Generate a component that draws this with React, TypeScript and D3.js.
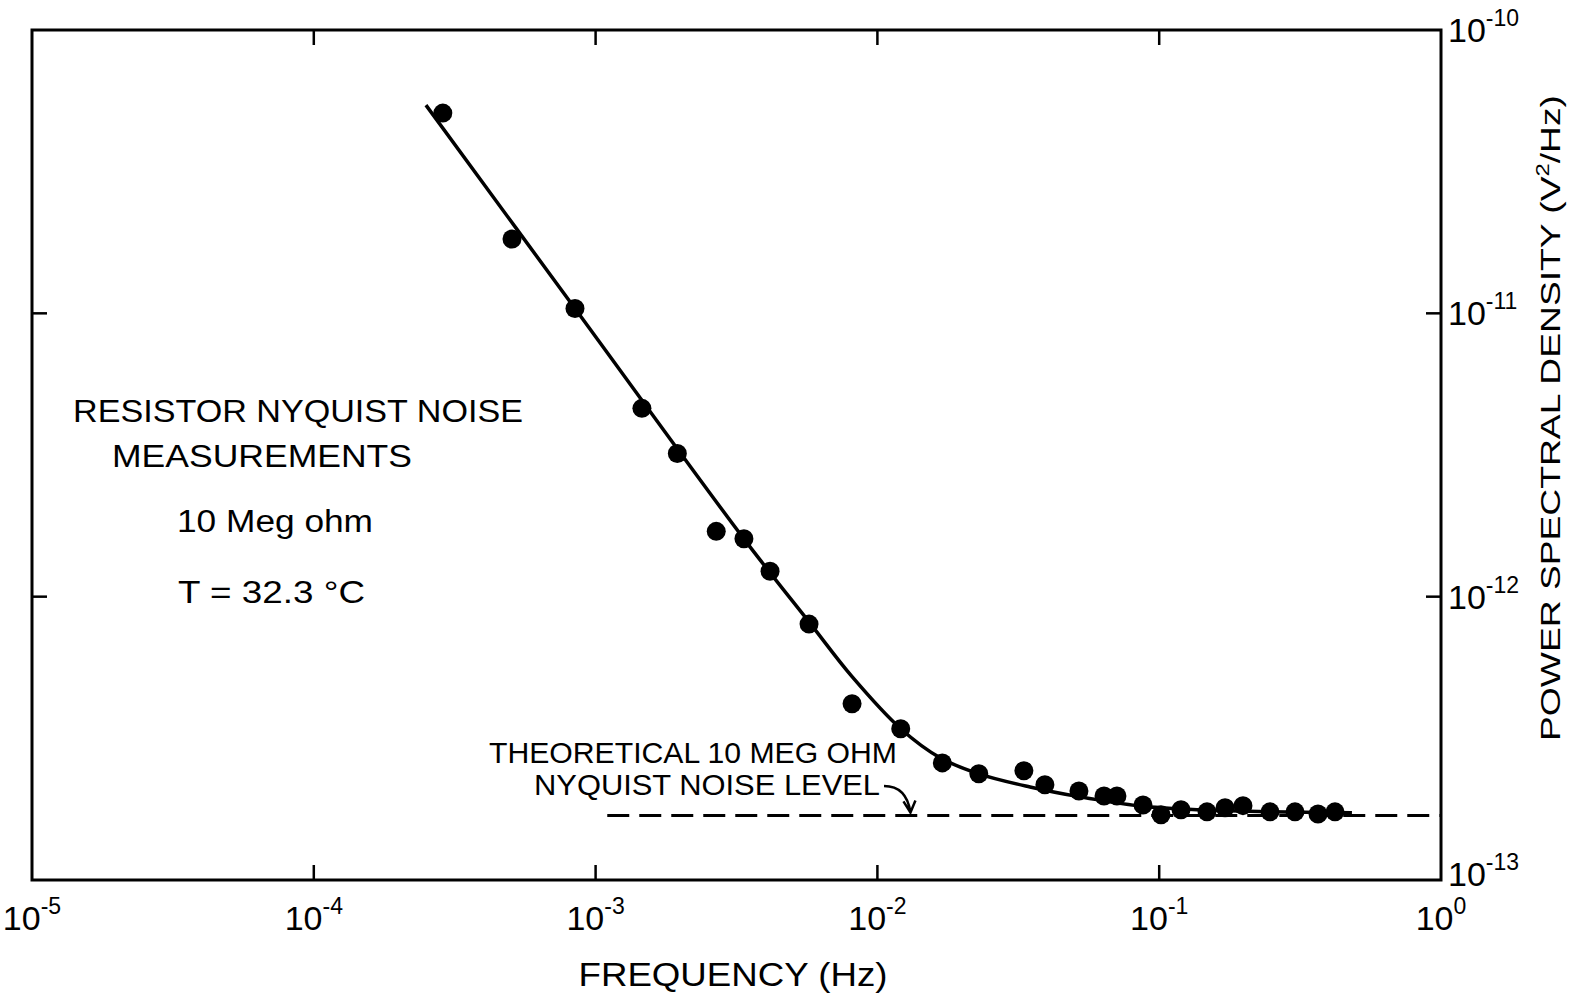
import React from "react";
import * as d3 from "d3";

// measured points (Hz, V^2/Hz)
const freq = [
  2.87e-4, 5.05e-4, 8.45e-4, 1.46e-3, 1.95e-3, 2.68e-3, 3.36e-3, 4.16e-3, 5.72e-3,
  8.13e-3, 1.21e-2, 1.7e-2, 2.29e-2, 3.31e-2, 3.93e-2, 5.19e-2, 6.37e-2, 7.08e-2,
  8.76e-2, 0.1015, 0.1195, 0.1478, 0.1713, 0.1983, 0.2473, 0.3033, 0.3661, 0.4206,
];
const psd = [
  5.09e-11, 1.83e-11, 1.04e-11, 4.62e-12, 3.2e-12, 1.7e-12, 1.6e-12, 1.23e-12, 8.0e-13,
  4.19e-13, 3.42e-13, 2.59e-13, 2.37e-13, 2.43e-13, 2.17e-13, 2.06e-13, 1.98e-13, 1.98e-13,
  1.84e-13, 1.7e-13, 1.77e-13, 1.74e-13, 1.8e-13, 1.83e-13, 1.74e-13, 1.74e-13, 1.71e-13, 1.74e-13,
];

// fitted curve
const fitFreq = [
  2.5e-4, 8.45e-4, 3.36e-3, 5.8e-3, 8.13e-3, 1.21e-2, 1.67e-2, 2.29e-2, 3.48e-2, 5.24e-2,
  8.55e-2, 0.1396, 0.247, 0.483,
];
const fitPsd = [
  5.43e-11, 1.04e-11, 1.6e-12, 8.0e-13, 5.22e-13, 3.42e-13, 2.7e-13, 2.37e-13, 2.13e-13, 1.965e-13,
  1.826e-13, 1.77e-13, 1.74e-13, 1.726e-13,
];

const nyquistLevel = 1.69e-13;
const nyquistFrom = 1.1e-3;
const nyquistTo = 0.99;

const xTicks = [1e-5, 1e-4, 1e-3, 1e-2, 1e-1, 1];
const xExps = ["-5", "-4", "-3", "-2", "-1", "0"];
const yTicks = [1e-10, 1e-11, 1e-12, 1e-13];
const yExps = ["-10", "-11", "-12", "-13"];

const font = "'Liberation Sans', Arial, sans-serif";

export default function App() {
  const width = 1574;
  const height = 1000;
  const left = 32, right = 1441, top = 30, bottom = 880;

  const x = d3.scaleLog().domain([1e-5, 1]).range([left, right]);
  const y = d3.scaleLog().domain([1e-13, 1e-10]).range([bottom, top]);

  const fit = d3
    .line<number>()
    .x((d) => x(d))
    .y((d, i) => y(fitPsd[i]))
    .curve(d3.curveCatmullRom)(fitFreq);

  // arrow from the label down to the dashed line
  const tipX = x(1.31e-2);
  const tipY = y(nyquistLevel) - 3;
  const arrow = d3.path();
  arrow.moveTo(884, 786);
  arrow.quadraticCurveTo(tipX - 4, 786, tipX, tipY);
  arrow.moveTo(tipX - 7, tipY - 11);
  arrow.lineTo(tipX, tipY);
  arrow.lineTo(tipX + 5, tipY - 12);

  const inner = [1e-4, 1e-3, 1e-2, 1e-1];
  const innerY = [1e-11, 1e-12];

  return (
    <svg
      width={width}
      height={height}
      style={{ position: "absolute", left: 0, top: 0, background: "#fff" }}
      fontFamily={font}
    >
      {/* frame */}
      <rect x={left} y={top} width={right - left} height={bottom - top} fill="none" stroke="#000" strokeWidth={3} />

      {/* ticks */}
      {inner.map((t) => (
        <g key={"xt" + t} stroke="#000" strokeWidth={2.5}>
          <line x1={x(t)} x2={x(t)} y1={bottom} y2={bottom - 15} />
          <line x1={x(t)} x2={x(t)} y1={top} y2={top + 15} />
        </g>
      ))}
      {innerY.map((t) => (
        <g key={"yt" + t} stroke="#000" strokeWidth={2.5}>
          <line x1={left} x2={left + 15} y1={y(t)} y2={y(t)} />
          <line x1={right} x2={right - 15} y1={y(t)} y2={y(t)} />
        </g>
      ))}

      {/* x tick labels */}
      {xTicks.map((t, i) => (
        <text key={"xl" + t} x={x(t)} y={930} textAnchor="middle" fontSize={34}>
          10
          <tspan dy={-16} fontSize={23}>{xExps[i]}</tspan>
        </text>
      ))}

      {/* y tick labels (the lowest one sits a little higher, clear of 10^0) */}
      {yTicks.map((t, i) => (
        <text key={"yl" + t} x={1448} y={y(t) + (i === yTicks.length - 1 ? 6 : 12)} fontSize={34}>
          10
          <tspan dy={-16} fontSize={23}>{yExps[i]}</tspan>
        </text>
      ))}

      {/* axis titles */}
      <text x={733} y={986} textAnchor="middle" fontSize={33} textLength={309} lengthAdjust="spacingAndGlyphs">
        FREQUENCY (Hz)
      </text>
      <text
        transform={`translate(1560,418) rotate(-90)`}
        textAnchor="middle"
        fontSize={28}
        textLength={646}
        lengthAdjust="spacingAndGlyphs"
      >
        POWER SPECTRAL DENSITY (V
        <tspan dy={-11} fontSize={18}>2</tspan>
        <tspan dy={11}>/Hz)</tspan>
      </text>

      {/* annotations */}
      <text x={73} y={422} fontSize={31} textLength={450} lengthAdjust="spacingAndGlyphs">RESISTOR NYQUIST NOISE</text>
      <text x={112} y={467} fontSize={31} textLength={300} lengthAdjust="spacingAndGlyphs">MEASUREMENTS</text>
      <text x={177} y={532} fontSize={31} textLength={196} lengthAdjust="spacingAndGlyphs">10 Meg ohm</text>
      <text x={178} y={603} fontSize={31} textLength={187} lengthAdjust="spacingAndGlyphs">T = 32.3 °C</text>

      <text x={489} y={763} fontSize={30} textLength={408} lengthAdjust="spacingAndGlyphs">THEORETICAL 10 MEG OHM</text>
      <text x={534} y={795} fontSize={30} textLength={346} lengthAdjust="spacingAndGlyphs">NYQUIST NOISE LEVEL</text>
      <path d={arrow.toString()} fill="none" stroke="#000" strokeWidth={2.5} />

      {/* theoretical level */}
      <line
        x1={x(nyquistFrom)}
        x2={x(nyquistTo)}
        y1={y(nyquistLevel)}
        y2={y(nyquistLevel)}
        stroke="#000"
        strokeWidth={3}
        strokeDasharray="22 10"
      />

      {/* fit */}
      <path d={fit ?? ""} fill="none" stroke="#000" strokeWidth={3.5} />

      {/* data */}
      {freq.map((f, i) => (
        <circle key={"p" + i} cx={x(f)} cy={y(psd[i])} r={9.5} fill="#000" />
      ))}
    </svg>
  );
}
